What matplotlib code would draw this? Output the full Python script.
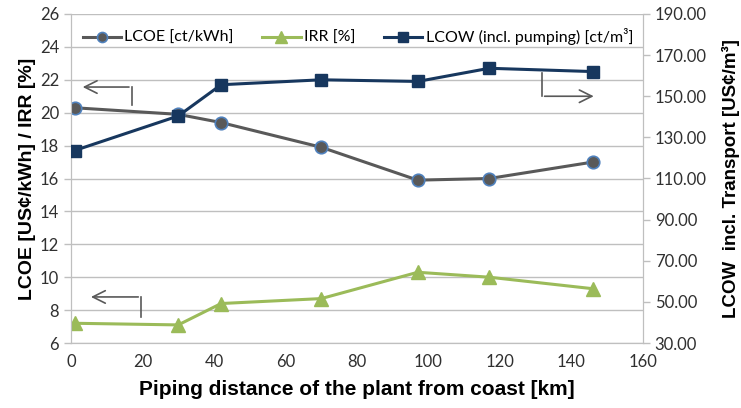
import matplotlib

matplotlib.use("Agg")

import matplotlib.pyplot as plt
from matplotlib.ticker import FormatStrFormatter

# data
distance_km = [1, 30, 42, 70, 97, 117, 146]
lcoe = [20.3, 19.9, 19.4, 17.9, 15.9, 16.0, 17.0]
irr = [7.2, 7.1, 8.4, 8.7, 10.3, 10.0, 9.3]
lcow = [123.6, 140.4, 155.6, 158.0, 157.2, 163.6, 162.0]

x_ticks = list(range(0, 161, 20))
left_ticks = list(range(6, 27, 2))
right_ticks = list(range(30, 191, 20))

grid_c = "#BFBFBF"
tick_font = "Lato"
label_font = "Liberation Sans"

fig = plt.figure(figsize=(7.41, 4.08), dpi=100)
ax = fig.add_axes([0.0958, 0.1593, 0.7719, 0.8064])
ax2 = ax.twinx()

l1, = ax.plot(distance_km, lcoe, color="#595959", lw=2.2, marker="o", ms=9,
              mfc="#595959", mec="#4F81BD", mew=1.2, label="LCOE [ct/kWh]", zorder=3)
l2, = ax.plot(distance_km, irr, color="#9BBB59", lw=2.2, marker="^", ms=10,
              mfc="#9BBB59", mec="#9BBB59", label="IRR [%]", zorder=3)
l3, = ax2.plot(distance_km, lcow, color="#17375E", lw=2.2, marker="s", ms=9,
               mfc="#17375E", mec="#17375E", label="LCOW (incl. pumping) [ct/m³]", zorder=3)

ax.set_xlim(0, 160)
ax.set_ylim(6, 26)
ax2.set_ylim(30, 190)
ax.set_xticks(x_ticks)
ax.set_yticks(left_ticks)
ax2.set_yticks(right_ticks)
ax2.yaxis.set_major_formatter(FormatStrFormatter("%.2f"))

ax.grid(axis="y", color=grid_c, lw=1)
ax.set_axisbelow(True)
for a in (ax, ax2):
    for s in a.spines.values():
        s.set_color(grid_c)
    a.spines["top"].set_visible(False)
    a.tick_params(colors="#404040", labelsize=12, length=5, width=1)
    a.tick_params(axis="x", pad=8)
    for t in a.get_xticklabels() + a.get_yticklabels():
        t.set_fontfamily(tick_font)
ax.tick_params(axis="both", color=grid_c)
ax2.tick_params(axis="y", color=grid_c, labelcolor="#303030")
ax.tick_params(axis="y", labelcolor="#303030")
ax.tick_params(axis="x", labelcolor="#303030", length=0)

ax.set_xlabel("Piping distance of the plant from coast [km]", fontsize=15,
              fontweight="bold", family=label_font, labelpad=7)
ax.set_ylabel("LCOE [US¢/kWh] / IRR [%]", fontsize=14, fontweight="bold",
              family=label_font, labelpad=3)
ax2.set_ylabel("LCOW  incl. Transport [US¢/m³]", fontsize=13.5, fontweight="bold",
               family=label_font, labelpad=11)

# pointer arrows showing which axis each series belongs to
arrow_kw = dict(arrowstyle="->,head_length=0.9,head_width=0.45", color="#595959", lw=1.2)
ax.plot([17, 17], [20.47, 21.56], color="#595959", lw=1.2)
ax.annotate("", xy=(2.5, 21.56), xytext=(17, 21.56), arrowprops=arrow_kw)
ax.plot([19.6, 19.6], [7.58, 8.8], color="#595959", lw=1.2)
ax.annotate("", xy=(4.8, 8.8), xytext=(19.6, 8.8), arrowprops=arrow_kw)
ax.plot([131.7, 131.7], [21.0, 22.4], color="#595959", lw=1.2)
ax.annotate("", xy=(147, 21.0), xytext=(131.7, 21.0), arrowprops=arrow_kw)

leg = ax.legend(handles=[l1, l2, l3], loc="upper left", bbox_to_anchor=(-0.005, 1.0),
                ncol=3, frameon=False, handlelength=2.4, markerscale=0.8,
                columnspacing=1.8, handletextpad=0.2,
                prop={"family": tick_font, "size": 11.5})

fig.savefig("out.png", dpi=100)
